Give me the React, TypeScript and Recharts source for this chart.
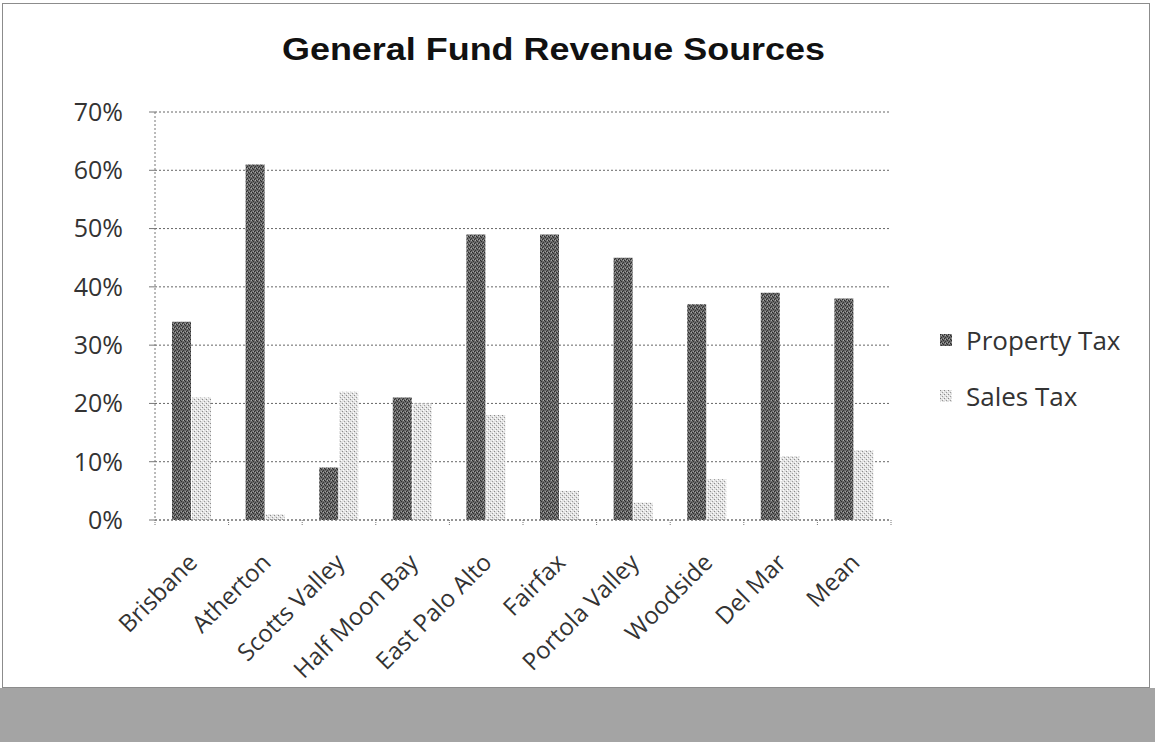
import { BarChart, Bar, XAxis, YAxis, CartesianGrid } from 'recharts';

const cities = [
  'Brisbane',
  'Atherton',
  'Scotts Valley',
  'Half Moon Bay',
  'East Palo Alto',
  'Fairfax',
  'Portola Valley',
  'Woodside',
  'Del Mar',
  'Mean',
];
const propertyTax = [34, 61, 9, 21, 49, 49, 45, 37, 39, 38];
const salesTax = [21, 1, 22, 20, 18, 5, 3, 7, 11, 12];
const yTicks = [0, 10, 20, 30, 40, 50, 60, 70];

const data = cities.map((city, i) => ({
  city,
  property: propertyTax[i],
  sales: salesTax[i],
}));

const CHART_W = 1148;
const CHART_H = 685;
const Y_W = 80;
const MARGIN = { top: 109, right: 259, left: 73, bottom: 0 };
const PLOT_W = CHART_W - MARGIN.left - Y_W - MARGIN.right;
const FONT = '"Open Sans", "DejaVu Sans", sans-serif';

const legendItems = [
  { label: 'Property Tax', fill: 'url(#propFill)' },
  { label: 'Sales Tax', fill: 'url(#salesFill)' },
];

function CityTick(props: any) {
  const { x, y, payload, index } = props;
  const step = PLOT_W / cities.length;
  return (
    <g>
      <line x1={x - step / 2} x2={x - step / 2} y1={y} y2={y + 6} stroke="#777" strokeDasharray="1 1" />
      {index === cities.length - 1 && (
        <line x1={x + step / 2} x2={x + step / 2} y1={y} y2={y + 6} stroke="#777" strokeDasharray="1 1" />
      )}
      <text
        x={x + 7}
        y={y + 44}
        textAnchor="end"
        transform={`rotate(-45 ${x + 7} ${y + 44})`}
        fontSize={24}
        fontFamily={FONT}
        fill="#333"
      >
        {payload.value}
      </text>
    </g>
  );
}

function LegendBox() {
  return (
    <div style={{ fontFamily: FONT, fontSize: 26, color: '#333' }}>
      {legendItems.map((item) => (
        <div key={item.label} style={{ display: 'flex', alignItems: 'center', height: 56 }}>
          <svg width={12} height={12} style={{ marginRight: 14 }}>
            <rect width={12} height={12} fill={item.fill} />
          </svg>
          <span>{item.label}</span>
        </div>
      ))}
    </div>
  );
}

export default function App() {
  return (
    <div style={{ position: 'absolute', left: 0, top: 0, width: 1155, height: 742, background: '#fff' }}>
      <svg width={0} height={0} style={{ position: 'absolute' }}>
        <defs>
          <pattern id="propFill" width={4} height={4} patternUnits="userSpaceOnUse">
            <rect width={4} height={4} fill="#6a6a6a" />
            <rect x={0} y={0} width={1} height={1} fill="#2a2a2a" />
            <rect x={2} y={1} width={1} height={1} fill="#2a2a2a" />
            <rect x={1} y={3} width={1} height={1} fill="#363636" />
            <rect x={3} y={2} width={1} height={1} fill="#303030" />
            <rect x={1} y={1} width={1} height={1} fill="#a8a8a8" />
            <rect x={3} y={0} width={1} height={1} fill="#9c9c9c" />
          </pattern>
          <pattern id="salesFill" width={4} height={4} patternUnits="userSpaceOnUse">
            <rect width={4} height={4} fill="#e2e2e2" />
            <rect x={0} y={0} width={1} height={1} fill="#8a8a8a" />
            <rect x={2} y={2} width={1} height={1} fill="#9a9a9a" />
            <rect x={3} y={1} width={1} height={1} fill="#fff" />
            <rect x={1} y={3} width={1} height={1} fill="#fff" />
          </pattern>
        </defs>
      </svg>

      <div
        style={{
          position: 'absolute',
          left: 2,
          top: 3,
          width: CHART_W - 2,
          height: CHART_H - 2,
          border: '1px solid #8c8c8c',
        }}
      />

      <svg width={1155} height={80} style={{ position: 'absolute', left: 0, top: 0 }}>
        <text
          x={282}
          y={60}
          textLength={543}
          lengthAdjust="spacingAndGlyphs"
          fontFamily='"Liberation Sans", Arial, sans-serif'
          fontWeight="bold"
          fontSize={31}
          fill="#111"
        >
          General Fund Revenue Sources
        </text>
      </svg>

      <div style={{ position: 'absolute', left: 2, top: 3 }}>
        <BarChart width={CHART_W} height={CHART_H} data={data} margin={MARGIN} barGap={1} barSize={19}>
          <CartesianGrid vertical={false} stroke="#666" strokeDasharray="2 2" />
          <XAxis
            dataKey="city"
            interval={0}
            tickLine={false}
            tickSize={0}
            tickMargin={0}
            axisLine={{ stroke: '#777', strokeDasharray: '2 2' }}
            tick={<CityTick />}
            height={168}
          />
          <YAxis
            width={Y_W}
            domain={[0, 70]}
            ticks={yTicks}
            interval={0}
            tickFormatter={(v) => `${v}%`}
            tickSize={6}
            tickMargin={26}
            tickLine={{ stroke: '#777' }}
            axisLine={{ stroke: '#777', strokeDasharray: '2 2' }}
            tick={{ fontSize: 25, fontFamily: FONT, fill: '#333' }}
          />
          <Bar dataKey="property" name="Property Tax" fill="url(#propFill)" isAnimationActive={false} />
          <Bar dataKey="sales" name="Sales Tax" fill="url(#salesFill)" isAnimationActive={false} />
        </BarChart>
      </div>

      <div style={{ position: 'absolute', left: 940, top: 312 }}>
        <LegendBox />
      </div>

      <div style={{ position: 'absolute', left: 0, top: 688, width: 1155, height: 54, background: '#a4a4a4' }} />
    </div>
  );
}
